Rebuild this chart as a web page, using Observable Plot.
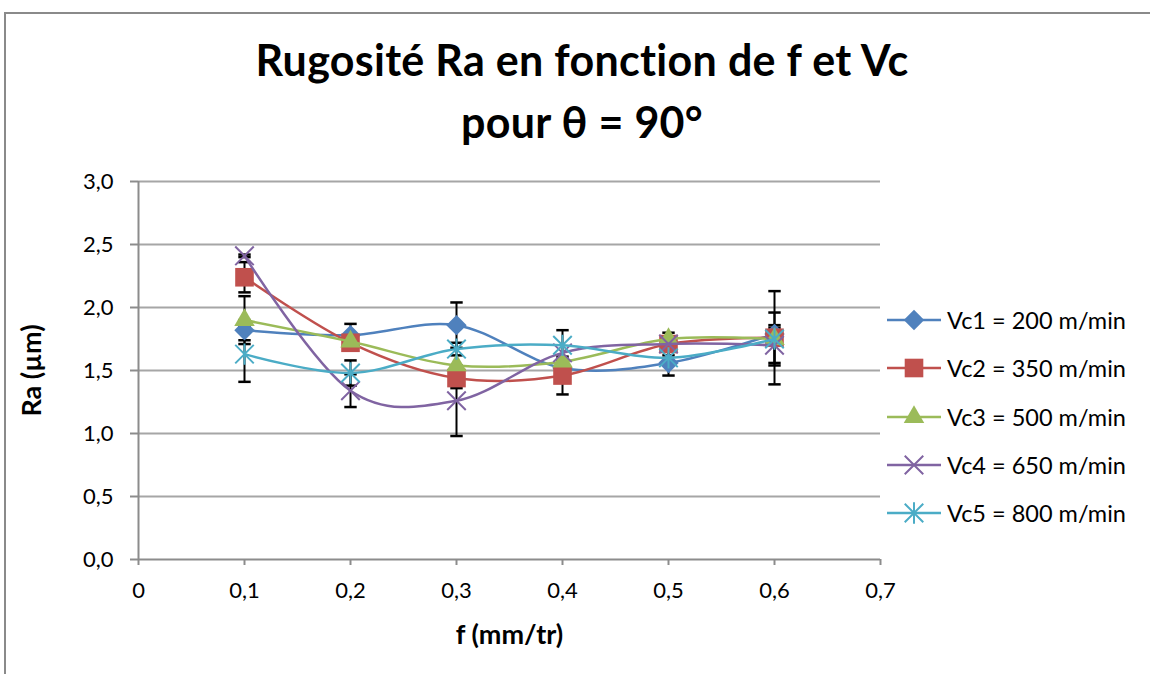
<!DOCTYPE html>
<html>
<head>
<meta charset="utf-8">
<script src="https://cdn.jsdelivr.net/npm/d3@7"></script>
<script src="https://cdn.jsdelivr.net/npm/@observablehq/plot@0.6"></script>
<style>
  html, body { margin: 0; padding: 0; background: #fff; }
  #wrap { position: relative; width: 1150px; height: 674px; overflow: hidden; font-family: Lato, "Open Sans", sans-serif; }
  #frame { position: absolute; left: 4px; top: 12px; width: 1200px; height: 700px; border-top: 2px solid #8a8a8a; border-left: 2px solid #8a8a8a; }
  #chart { position: absolute; left: 0; top: 0; }
  .title { position: absolute; left: 0; width: 1164px; text-align: center; font-weight: bold; font-size: 43px; letter-spacing: 0.3px; color: #000; line-height: 1; }
  #legend { position: absolute; left: 885px; top: 296px; }
  .lg { display: flex; align-items: center; height: 48.25px; font-size: 23.5px; color: #000; }
  .lg svg { margin-right: 4px; }
</style>
</head>
<body>
<div id="wrap">
  <div id="frame"></div>
  <div id="chart"></div>
  <div class="title" id="t1" style="top:38px">Rugosité Ra en fonction de f et Vc</div>
  <div class="title" id="t2" style="top:100px">pour θ = 90°</div>
  <div id="legend"></div>
</div>
<script>
// ---- data ----
const feed = [0.1, 0.2, 0.3, 0.4, 0.5, 0.6];
const seriesNames = ["Vc1 = 200 m/min", "Vc2 = 350 m/min", "Vc3 = 500 m/min", "Vc4 = 650 m/min", "Vc5 = 800 m/min"];
const vc1 = [1.82, 1.78, 1.86, 1.52, 1.56, 1.79];
const vc2 = [2.24, 1.72, 1.44, 1.46, 1.71, 1.76];
const vc3 = [1.90, 1.73, 1.54, 1.57, 1.75, 1.75];
const vc4 = [2.41, 1.34, 1.26, 1.64, 1.71, 1.70];
const vc5 = [1.63, 1.48, 1.67, 1.70, 1.60, 1.75];
// error-bar half widths (0 = none)
const err1 = [0.08, 0.09, 0.18, 0.00, 0.10, 0.07];
const err2 = [0.12, 0.00, 0.08, 0.15, 0.09, 0.37];
const err3 = [0.19, 0.00, 0.00, 0.00, 0.00, 0.21];
const err4 = [0.01, 0.13, 0.28, 0.00, 0.00, 0.14];
const err5 = [0.22, 0.10, 0.05, 0.12, 0.00, 0.00];
const xTicks = [0, 0.1, 0.2, 0.3, 0.4, 0.5, 0.6, 0.7];
const yTicks = [0, 0.5, 1, 1.5, 2, 2.5, 3];
const colors = ["#4F81BD", "#C0504D", "#9BBB59", "#8064A2", "#4BACC6"];

const values = [vc1, vc2, vc3, vc4, vc5];
const errs = [err1, err2, err3, err4, err5];
const rows = [];
values.forEach((vals, s) => vals.forEach((v, i) => rows.push({series: seriesNames[s], f: feed[i], ra: v, e: errs[s][i]})));
const errRows = rows.filter(d => d.e > 0).map(d => ({...d, lo: d.ra - d.e, hi: d.ra + d.e}));

// ---- symbols ----
const starSym = {draw(ctx, size) {
  const r = Math.sqrt(size) * 0.55;
  ctx.moveTo(-r, -r); ctx.lineTo(r, r);
  ctx.moveTo(-r, r); ctx.lineTo(r, -r);
  ctx.moveTo(0, -r * 1.15); ctx.lineTo(0, r * 1.15);
}};
const timesSym = {draw(ctx, size) {
  const r = Math.sqrt(size) * 0.55;
  ctx.moveTo(-r, -r); ctx.lineTo(r, r);
  ctx.moveTo(-r, r); ctx.lineTo(r, -r);
}};
const capSym = {draw(ctx, size) { const r = Math.sqrt(size) / 2; ctx.moveTo(-r, 0); ctx.lineTo(r, 0); }};
const symbols = [d3.symbolDiamond2, d3.symbolSquare, d3.symbolTriangle, timesSym, starSym];
const symR = [9.2, 10.5, 7.6, 9.5, 9.5];
const filled = [true, true, true, false, false];
const comma = d => d3.format(".1f")(d).replace(".", ",");

const gray = "#8c8c8c";
const marks = [
  Plot.gridY(yTicks.filter(d => d > 0), {stroke: "#a6a6a6", strokeOpacity: 1, strokeWidth: 2}),
  Plot.ruleX([0], {stroke: gray, strokeWidth: 2}),
  Plot.ruleY([0], {stroke: gray, strokeWidth: 2}),
  Plot.axisY({ticks: yTicks, tickFormat: comma, tickSize: 8, tickPadding: 17, stroke: gray, strokeWidth: 2, fontSize: 22, label: null}),
  Plot.axisX({ticks: xTicks, tickFormat: d => d === 0 ? "0" : comma(d), tickSize: 6, tickPadding: 17, stroke: gray, strokeWidth: 2, fontSize: 22, label: null}),
  Plot.text(["Ra (µm)"], {frameAnchor: "left", dx: -106, rotate: -90, textAnchor: "middle", lineAnchor: "middle", fontSize: 27, fontWeight: "bold", text: d => d}),
  Plot.text(["f (mm/tr)"], {frameAnchor: "bottom", dy: 76, textAnchor: "middle", lineAnchor: "middle", fontSize: 27, fontWeight: "bold", text: d => d}),
  Plot.ruleX(errRows, {x: "f", y1: "lo", y2: "hi", stroke: "#000", strokeWidth: 2}),
  Plot.dot(errRows, {x: "f", y: "lo", symbol: capSym, r: 7, stroke: "#000", strokeWidth: 2.5}),
  Plot.dot(errRows, {x: "f", y: "hi", symbol: capSym, r: 7, stroke: "#000", strokeWidth: 2.5})
];
seriesNames.forEach((name, s) => {
  const data = rows.filter(d => d.series === name);
  marks.push(Plot.line(data, {x: "f", y: "ra", stroke: colors[s], strokeWidth: 2.5, curve: "cardinal"}));
  marks.push(Plot.dot(data, filled[s]
    ? {x: "f", y: "ra", symbol: symbols[s], r: symR[s], fill: colors[s], stroke: "none"}
    : {x: "f", y: "ra", symbol: symbols[s], r: symR[s], fill: "none", stroke: colors[s], strokeWidth: 2}));
});

const plot = Plot.plot({
  width: 1150, height: 674,
  marginTop: 181, marginLeft: 138, marginRight: 270, marginBottom: 115,
  x: {domain: [0, 0.7]},
  y: {domain: [0, 3]},
  style: {fontFamily: "Lato, 'Open Sans', sans-serif", fontSize: "22px", color: "#000", background: "transparent"},
  marks
});
document.getElementById("chart").appendChild(plot);

// ---- legend ----
const legend = d3.select("#legend");
seriesNames.forEach((name, s) => {
  const row = legend.append("div").attr("class", "lg");
  const svg = row.append("svg").attr("width", 58).attr("height", 24);
  svg.append("line").attr("x1", 2).attr("x2", 56).attr("y1", 12).attr("y2", 12).attr("stroke", colors[s]).attr("stroke-width", 2.5);
  const size = Math.PI * symR[s] * symR[s];
  svg.append("path").attr("transform", "translate(29,12)")
    .attr("d", d3.symbol(symbols[s], size)())
    .attr("fill", filled[s] ? colors[s] : "none")
    .attr("stroke", filled[s] ? "none" : colors[s])
    .attr("stroke-width", 2);
  row.append("span").text(name);
});
</script>
</body>
</html>
